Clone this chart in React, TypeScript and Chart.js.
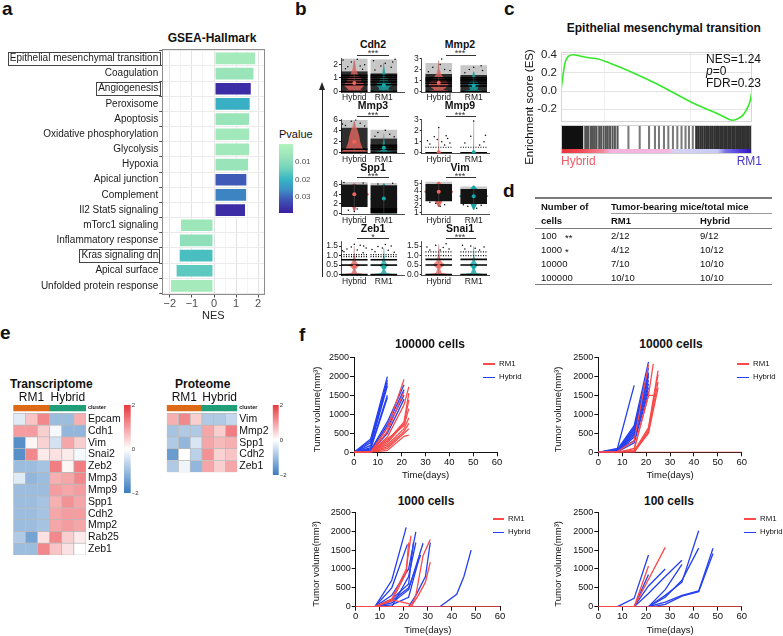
import React, { useEffect, useRef } from 'react';
import { Chart, registerables } from 'chart.js';

Chart.register(...registerables);

const FONT = "'Liberation Sans', Arial, Helvetica, sans-serif";
Chart.defaults.font.family = FONT;
Chart.defaults.color = '#222';

// ---------------- Panel a : GSEA Hallmark ----------------
const gseaTerms = [
  'Epithelial mesenchymal transition', 'Coagulation', 'Angiogenesis', 'Peroxisome', 'Apoptosis',
  'Oxidative phosphorylation', 'Glycolysis', 'Hypoxia', 'Apical junction', 'Complement',
  'Il2 Stat5 signaling', 'mTorc1 signaling', 'Inflammatory response', 'Kras signaling dn',
  'Apical surface', 'Unfolded protein response',
];
const gseaNES = [1.9, 1.83, 1.71, 1.66, 1.63, 1.63, 1.63, 1.59, 1.51, 1.5, 1.45, -1.54, -1.59, -1.6, -1.74, -1.99];
const gseaPvalue = [0.004, 0.007, 0.037, 0.021, 0.007, 0.005, 0.005, 0.007, 0.031, 0.027, 0.037, 0.006, 0.009, 0.018, 0.016, 0.004];
const boxedTerms = ['Epithelial mesenchymal transition', 'Angiogenesis', 'Kras signaling dn'];
const nesTicks = [-2, -1.5, -1, -0.5, 0, 0.5, 1, 1.5, 2];
const pvalueTicks = [0.01, 0.02, 0.03];
const pvalueLimits = [0, 0.039];

// ---------------- Panel b : violin plots ----------------
const violinGroups = ['Hybrid', 'RM1'];
const cdh2 = {
  name: 'Cdh2', sig: '***', y: [-0.05, 2.5], ticks: [0, 1, 2], opaque: false, dec: 0,
  hyb: { dense: [0, 1.5], sparseTop: 2.45, stripes: [0, 0.5, 0.7, 0.88, 1.05, 1.2], violin: [[0, 0.45], [0.12, 0.2], [0.3, 0.28], [0.5, 0.36], [0.7, 0.26], [0.9, 0.24], [1.1, 0.18], [1.3, 0.12], [1.6, 0.07], [2.0, 0.04], [2.3, 0.02]], mean: 0.62, dots: [[-0.3, 1.7], [0.2, 1.9], [-0.1, 2.2], [0.35, 2.0], [-0.38, 2.35], [0.1, 2.4], [0.28, 1.65], [-0.22, 1.85]] },
  rm1: { dense: [0, 1.35], sparseTop: 2.4, stripes: [0, 0.5, 0.7, 0.88, 1.05, 1.2], violin: [[0, 0.45], [0.12, 0.15], [0.3, 0.18], [0.5, 0.3], [0.7, 0.15], [0.9, 0.14], [1.1, 0.08], [1.4, 0.05], [1.8, 0.02], [2.1, 0.01]], mean: 0.46, dots: [[-0.3, 1.6], [0.25, 1.8], [0.05, 2.1], [-0.35, 2.3], [0.38, 2.4], [-0.1, 1.9], [0.3, 2.2]] },
};
const mmp2 = {
  name: 'Mmp2', sig: '***', y: [-0.05, 3.05], ticks: [0, 1, 2, 3], opaque: false, dec: 0,
  hyb: { dense: [0, 1.6], sparseTop: 2.6, stripes: [0, 0.5, 0.75, 0.95, 1.1, 1.25], violin: [[0, 0.45], [0.15, 0.15], [0.35, 0.25], [0.55, 0.34], [0.8, 0.3], [1.0, 0.26], [1.3, 0.16], [1.6, 0.08], [2.0, 0.04], [2.8, 0.01]], mean: 0.8, dots: [[-0.35, 1.8], [0.2, 2.0], [0.05, 2.45], [-0.2, 2.2], [0.38, 1.9], [0.1, 2.95]] },
  rm1: { dense: [0, 1.5], sparseTop: 2.4, stripes: [0, 0.5, 0.75, 0.95, 1.1, 1.25], violin: [[0, 0.42], [0.15, 0.12], [0.35, 0.15], [0.55, 0.2], [0.8, 0.15], [1.0, 0.12], [1.3, 0.06], [1.8, 0.02]], mean: 0.55, dots: [[-0.3, 1.7], [0.3, 1.9], [0.0, 2.2], [-0.15, 2.0], [0.25, 2.35]] },
};
const mmp3 = {
  name: 'Mmp3', sig: '***', y: [-0.15, 6.15], ticks: [0, 2, 4, 6], opaque: false, dec: 0,
  hyb: { dense: [0, 4.6], sparseTop: 6.0, stripes: [0, 0.6], violin: [[0, 0.45], [0.3, 0.4], [0.6, 0.3], [1.2, 0.25], [2, 0.2], [3, 0.17], [4, 0.12], [5, 0.05], [5.8, 0.01]], mean: 2.0, dots: [[-0.3, 5.0], [0.2, 5.4], [0.35, 4.9], [-0.1, 5.8], [0.05, 6.0], [-0.4, 5.3]] },
  rm1: { dense: [0, 2.6], sparseTop: 4.2, stripes: [0, 0.6, 1.0, 1.35], violin: [[0, 0.4], [0.3, 0.1], [0.7, 0.12], [1.1, 0.08], [1.6, 0.04], [2.4, 0.015], [3.5, 0.005]], mean: 0.9, dots: [[-0.3, 3.0], [0.2, 3.4], [0.05, 4.1], [-0.2, 3.7], [0.35, 2.9]] },
};
const mmp9 = {
  name: 'Mmp9', sig: '***', y: [-0.05, 3.05], ticks: [0, 1, 2, 3], opaque: false, dec: 0,
  hyb: { dense: [0, 0.04], sparseTop: 0, stripes: [0], dotted: [0.5], violin: [[0, 0.45], [0.06, 0.03], [0.5, 0.01], [2.3, 0.004]], mean: 0.05, dots: [[-0.3, 0.8], [0.1, 1.0], [0.3, 1.3], [-0.15, 1.45], [0.2, 0.7], [-0.38, 1.1], [0.0, 2.3], [0.38, 0.9], [-0.05, 1.2], [0.25, 1.55]] },
  rm1: { dense: [0, 0.04], sparseTop: 0, stripes: [0], dotted: [0.5], violin: [[0, 0.45], [0.06, 0.03], [0.5, 0.01], [2.9, 0.004]], mean: 0.04, dots: [[-0.3, 0.9], [0.2, 0.7], [0.35, 1.0], [-0.1, 1.5], [0.0, 2.9], [0.4, 1.6]] },
};
const spp1 = {
  name: 'Spp1', sig: '***', y: [-0.3, 6.9], ticks: [0, 2, 4, 6], opaque: true, dec: 0,
  hyb: { dense: [1.3, 6.1], sparseTop: 6.6, stripes: [], violin: [[0.4, 0.02], [1.5, 0.08], [2.5, 0.22], [3.3, 0.4], [4.0, 0.5], [4.7, 0.38], [5.5, 0.15], [6.3, 0.03]], mean: 4.0, dots: [[-0.2, 0.6], [0.1, 0.9], [0.0, 0.35], [-0.35, 6.5], [0.3, 6.4]] },
  rm1: { dense: [0.9, 5.9], sparseTop: 6.4, stripes: [0.1, 0.35, 0.6, 0.85], violin: [[0, 0.3], [0.3, 0.35], [0.6, 0.25], [1.2, 0.2], [2, 0.3], [3, 0.46], [3.7, 0.4], [4.6, 0.25], [5.5, 0.08], [6.3, 0.02]], mean: 3.1, dots: [[-0.2, 6.2], [0.3, 6.35]] },
};
const vim = {
  name: 'Vim', sig: '***', y: [0.73, 5.47], ticks: [1, 2, 3, 4, 5], opaque: true, dec: 0,
  hyb: { dense: [2.6, 5.0], sparseTop: 5.3, stripes: [], violin: [[1.8, 0.02], [2.8, 0.15], [3.4, 0.35], [3.9, 0.5], [4.4, 0.35], [4.9, 0.12], [5.3, 0.02]], mean: 3.9, dots: [[-0.1, 2.3], [0.2, 2.1], [0.05, 1.9], [-0.3, 2.45]] },
  rm1: { dense: [2.2, 4.3], sparseTop: 4.65, stripes: [], violin: [[1.4, 0.02], [2.3, 0.12], [2.9, 0.35], [3.3, 0.5], [3.8, 0.35], [4.3, 0.12], [4.8, 0.02]], mean: 3.3, dots: [[-0.2, 1.9], [0.1, 1.6], [0.25, 2.05], [-0.35, 2.1]] },
};
const zeb1 = {
  name: 'Zeb1', sig: '*', y: [-0.07, 1.72], ticks: [0, 0.5, 1, 1.5], opaque: false, dec: 1,
  hyb: { dense: [0, 0.03], sparseTop: 0, stripes: [0, 0.5, 0.78], dotted: [0.95, 1.05], violin: [[0, 0.45], [0.08, 0.1], [0.25, 0.04], [0.4, 0.12], [0.5, 0.2], [0.6, 0.1], [0.75, 0.05], [0.9, 0.04], [1.1, 0.02], [1.5, 0.005]], mean: 0.42, dots: [[-0.35, 1.2], [0.1, 1.3], [0.3, 1.15], [-0.1, 1.45], [0.2, 1.55], [-0.25, 1.35], [0.4, 1.4], [0.0, 1.6], [-0.4, 1.25], [0.32, 1.5]] },
  rm1: { dense: [0, 0.03], sparseTop: 0, stripes: [0, 0.5, 0.78], dotted: [0.95, 1.05], violin: [[0, 0.45], [0.08, 0.1], [0.25, 0.04], [0.4, 0.1], [0.5, 0.16], [0.6, 0.08], [0.8, 0.04], [1.0, 0.02], [1.4, 0.005]], mean: 0.4, dots: [[-0.3, 1.2], [0.15, 1.28], [0.35, 1.18], [-0.05, 1.4], [0.25, 1.5], [-0.4, 1.32], [0.05, 1.58], [-0.2, 1.48]] },
};
const snai1 = {
  name: 'Snai1', sig: '***', y: [-0.07, 1.72], ticks: [0, 0.5, 1, 1.5], opaque: false, dec: 1,
  hyb: { dense: [0, 0.03], sparseTop: 0, stripes: [0, 0.5, 0.8], dotted: [1.0, 1.2], violin: [[0, 0.45], [0.08, 0.1], [0.3, 0.05], [0.45, 0.16], [0.55, 0.18], [0.7, 0.08], [0.85, 0.05], [1.2, 0.02], [1.6, 0.005]], mean: 0.45, dots: [[-0.3, 1.3], [0.15, 1.42], [0.35, 1.35], [-0.1, 1.55], [0.25, 1.62], [-0.4, 1.45], [0.05, 1.3]] },
  rm1: { dense: [0, 0.03], sparseTop: 0, stripes: [0, 0.5, 0.8], dotted: [1.0, 1.2], violin: [[0, 0.45], [0.08, 0.1], [0.3, 0.04], [0.45, 0.12], [0.55, 0.12], [0.7, 0.05], [1.0, 0.02], [1.5, 0.005]], mean: 0.4, dots: [[-0.3, 1.35], [0.2, 1.3], [0.35, 1.45], [-0.1, 1.5], [0.05, 1.38], [-0.38, 1.55]] },
};
const violinGenes = [cdh2, mmp2, mmp3, mmp9, spp1, vim, zeb1, snai1];

// ---------------- Panel c : enrichment plot ----------------
const esRank = [0, 0.004, 0.009, 0.02, 0.04, 0.066, 0.1, 0.136, 0.19, 0.3, 0.4, 0.5, 0.6, 0.7, 0.8, 0.86, 0.895, 0.92, 0.95, 0.97, 0.99, 1.0];
const esScore = [0, 0.08, 0.15, 0.3, 0.385, 0.4, 0.385, 0.37, 0.355, 0.27, 0.18, 0.08, -0.03, -0.14, -0.23, -0.29, -0.32, -0.31, -0.27, -0.21, -0.11, 0];
const esTicks = [-0.2, 0, 0.2, 0.4];
const esHits = [0.002, 0.009, 0.016, 0.021, 0.028, 0.035, 0.04, 0.047, 0.054, 0.061, 0.066, 0.073, 0.082, 0.089, 0.096, 0.104, 0.111, 0.127, 0.136, 0.144, 0.157, 0.167, 0.177, 0.186, 0.2, 0.21, 0.223, 0.235, 0.245, 0.257, 0.27, 0.282, 0.296, 0.353, 0.412, 0.461, 0.492, 0.513, 0.539, 0.562, 0.586, 0.609, 0.631, 0.652, 0.67, 0.69, 0.708, 0.718, 0.729, 0.739, 0.75, 0.76, 0.77, 0.781, 0.791, 0.802, 0.812, 0.822, 0.833, 0.843, 0.854, 0.864, 0.875, 0.885, 0.896, 0.906, 0.917, 0.927, 0.937, 0.948, 0.958, 0.969, 0.979, 0.99, 0.998];

// ---------------- Panel d : table ----------------
const cellNumbers = ['100', '1000', '10000', '100000'];
const cellStars = ['**', '*', '', ''];
const tumorRM1 = ['2/12', '4/12', '7/10', '10/10'];
const tumorHybrid = ['9/12', '10/12', '10/10', '10/10'];

// ---------------- Panel e : heatmaps ----------------
const hmSamples = ['RM1-1', 'RM1-2', 'RM1-3', 'Hybrid-1', 'Hybrid-2', 'Hybrid-3'];
const hmCluster = ['RM1', 'RM1', 'RM1', 'Hybrid', 'Hybrid', 'Hybrid'];
const transGenes = ['Epcam', 'Cdh1', 'Vim', 'Snai2', 'Zeb2', 'Mmp3', 'Mmp9', 'Spp1', 'Cdh2', 'Mmp2', 'Rab25', 'Zeb1'];
const transZ = [
  [-0.3, 0.6, 1.2, -1.0, -1.0, 0.8],
  [1.0, 1.0, 0.5, -0.1, -1.1, -1.1],
  [-1.7, 0.1, 0.45, -0.45, 0.9, 0.5],
  [-1.7, 1.2, 0.2, 0.3, 0.2, -0.1],
  [-1.0, -1.0, -0.9, 1.3, 0.1, 1.3],
  [-0.3, -1.1, -1.0, 0.8, 0.9, 1.2],
  [-1.0, -1.0, -1.0, 1.0, 0.9, 1.0],
  [-1.0, -1.0, -0.9, 0.8, 1.1, 0.9],
  [-1.0, -1.0, -0.9, 0.9, 1.0, 1.0],
  [-1.0, -1.0, -0.9, 0.9, 1.0, 0.9],
  [-0.8, -1.4, 0.3, 1.2, 0.5, 0.2],
  [-1.0, -1.0, 1.2, 0.6, 0.3, 0.0],
];
const protGenes = ['Vim', 'Mmp2', 'Spp1', 'Cdh2', 'Zeb1'];
const protZ = [
  [0.8, 1.2, 0.5, -0.8, -0.8, -0.6],
  [-0.9, -0.8, -0.8, 0.9, 0.5, 1.3],
  [-0.8, -1.1, -0.4, 0.9, 0.7, 0.8],
  [-1.5, 0.0, -0.7, 1.1, 0.45, 0.6],
  [-0.8, -0.15, -1.1, 0.9, 0.5, 0.9],
];
const zTicks = [-2, 0, 2];
const zLimits = [-2, 2];

// ---------------- Panel f : tumour growth ----------------
const timeTicks = [0, 10, 20, 30, 40, 50, 60];
const volumeTicks = [0, 500, 1000, 1500, 2000, 2500];
const hybrid100000 = [
  [[0, 0], [7, 350], [14, 1990]], [[0, 0], [7, 300], [14, 1900]], [[0, 0], [7, 250], [14, 1820]],
  [[0, 0], [7, 180], [14, 1750]], [[0, 0], [7, 120], [14, 1500]], [[0, 0], [7, 90], [14, 1440]],
  [[0, 0], [7, 60], [14, 800], [21, 1780]], [[0, 0], [7, 40], [14, 650], [21, 1500]],
  [[0, 0], [7, 30], [14, 720], [21, 1650]], [[0, 0], [7, 20], [14, 500], [21, 1400]],
];
const rm1_100000 = [
  [[0, 0], [7, 10], [14, 650], [21, 1920]], [[0, 0], [7, 0], [14, 550], [21, 1600]],
  [[0, 0], [7, 0], [14, 400], [21, 1250], [23, 1720]], [[0, 0], [7, 0], [14, 300], [21, 800], [23, 1560]],
  [[0, 0], [7, 0], [14, 250], [21, 750], [23, 1380]], [[0, 0], [7, 0], [14, 350], [21, 700], [23, 1150]],
  [[0, 0], [7, 0], [14, 200], [21, 620], [23, 900]], [[0, 0], [7, 0], [14, 150], [21, 550], [23, 760]],
  [[0, 0], [7, 0], [14, 100], [21, 500], [23, 620]], [[0, 0], [7, 0], [14, 50], [21, 420], [23, 450]],
];
const hybrid10000 = [
  [[0, 0], [8, 100], [15, 1760]], [[0, 0], [8, 80], [15, 700], [21, 2380]], [[0, 0], [8, 60], [15, 600], [21, 2220]],
  [[0, 0], [8, 50], [15, 650], [21, 2050]], [[0, 0], [8, 40], [15, 500], [21, 2000]], [[0, 0], [8, 30], [15, 450], [21, 1900]],
  [[0, 0], [8, 70], [15, 300], [21, 1700]], [[0, 0], [8, 20], [15, 400], [21, 1800]], [[0, 0], [8, 10], [15, 250], [21, 1600]],
  [[0, 0], [8, 50], [15, 550], [21, 2100]],
];
const rm1_10000 = [
  [[0, 0], [8, 20], [15, 300], [21, 2300]], [[0, 0], [8, 0], [15, 100], [21, 1500], [23, 2330]],
  [[0, 0], [8, 0], [15, 60], [21, 1500], [23, 1500]], [[0, 0], [8, 0], [15, 30], [21, 650], [25, 2150]],
  [[0, 0], [8, 0], [15, 0], [21, 600], [25, 2050]], [[0, 0], [8, 0], [15, 0], [21, 550], [25, 1850]],
  [[0, 0], [8, 0], [15, 10], [21, 500], [25, 1700]], [[0, 0], [60, 0]],
];
const hybrid1000 = [
  [[0, 0], [8, 0], [15, 700], [21, 2100]], [[0, 0], [8, 0], [15, 500], [21.5, 1650]],
  [[0, 0], [8, 0], [15, 300], [22, 1000], [25, 1980]], [[0, 0], [8, 0], [15, 200], [22, 600], [24, 1700]],
  [[0, 0], [8, 0], [15, 150], [22, 500], [27, 1370]], [[0, 0], [8, 0], [15, 100], [22, 450], [28, 1680]],
  [[0, 0], [8, 0], [15, 50], [22, 250], [26, 1200]], [[0, 0], [22, 0], [25, 300], [29, 800], [31, 1700]],
  [[0, 0], [15, 0], [22, 800], [25, 1700]], [[0, 0], [35, 0], [42, 330], [45, 800], [48, 1500]],
];
const rm1_1000 = [
  [[0, 0], [8, 0], [15, 200], [21, 1000], [23, 1880]], [[0, 0], [8, 0], [15, 150], [21, 900], [22, 1700]],
  [[0, 0], [8, 0], [15, 180], [22, 80], [24, 0]], [[0, 0], [23, 0], [25, 300], [28, 1350], [31, 1780]],
  [[0, 0], [23, 0], [26, 300], [29, 650], [31, 1180]], [[0, 0], [60, 0]],
];
const hybrid100 = [
  [[0, 0], [8, 0], [15, 220], [21, 1370]], [[0, 0], [15, 0], [21, 850]], [[0, 0], [15, 0], [21, 550], [28, 1000]],
  [[0, 0], [15, 0], [21, 350], [28, 800], [35, 1230]], [[0, 0], [21, 0], [28, 450], [35, 1120]],
  [[0, 0], [21, 0], [28, 300], [35, 650], [42, 2010]], [[0, 0], [21, 0], [28, 250], [35, 700], [42, 1550]],
  [[0, 0], [21, 0], [28, 120], [35, 300], [42, 420], [48, 1550]], [[0, 0], [23, 0], [28, 60], [35, 280], [42, 400], [48, 1410]],
];
const rm1_100 = [[[0, 0], [15, 0], [21, 1080]], [[0, 0], [15, 0], [28, 1570]], [[0, 0], [60, 0]]];

// ---------------- styles ----------------
const pvalueStops: any[] = [[0, '#b3f3bd'], [0.2, '#97e2b9'], [0.36, '#6fd2bd'], [0.51, '#38b6c4'], [0.67, '#3c8ec4'], [0.8, '#4058b8'], [1, '#3a1ea0']];
const divStops: any[] = [[0, '#3a7bbf'], [0.5, '#ffffff'], [1, '#e8393e']];
const rankStops: any[] = [[0, '#e5323b'], [0.1, '#ee4a55'], [0.22, '#f48a9c'], [0.26, '#f5b3dd'], [0.56, '#f5b6df'], [0.6, '#d6d4f6'], [0.82, '#c9c9f4'], [0.86, '#7d74e6'], [0.95, '#4a32d6'], [1, '#2a12b4']];
const clusterColors: any = { RM1: '#dd6a17', Hybrid: '#1f9e78' };
const HYB_COL = '#f0645e';
const RM1_COL = '#16a9a9';
const RED = '#fa4a4a';
const BLUE = '#2540f0';

function hexRgb(h: string) {
  const n = parseInt(h.slice(1), 16);
  return [(n >> 16) & 255, (n >> 8) & 255, n & 255];
}
function ramp(stops: any[], t: number) {
  t = Math.max(0, Math.min(1, t));
  for (let i = 1; i < stops.length; i++) {
    if (t <= stops[i][0]) {
      const [t0, c0] = stops[i - 1];
      const [t1, c1] = stops[i];
      const f = (t - t0) / (t1 - t0 || 1);
      const a = hexRgb(c0);
      const b = hexRgb(c1);
      return `rgb(${a.map((v, k) => Math.round(v + (b[k] - v) * f)).join(',')})`;
    }
  }
  return stops[stops.length - 1][1];
}
function scaleGradient(c: any, stops: any[], limits: number[], axis: string) {
  const chart = c.chart;
  if (!chart.chartArea) return 'transparent';
  const sc = chart.scales[axis];
  const p0 = sc.getPixelForValue(limits[0]);
  const p1 = sc.getPixelForValue(limits[1]);
  const g = axis === 'y' ? chart.ctx.createLinearGradient(0, p0, 0, p1) : chart.ctx.createLinearGradient(p0, 0, p1, 0);
  stops.forEach(([t, col]: any) => g.addColorStop(t, col));
  return g;
}
const minus = (v: number) => (v < 0 ? '\u2212' + Math.abs(v) : String(v));
const hitShade = (h: number) => (h < 0.12 ? '#111' : h < 0.32 ? '#555' : h < 0.7 ? '#7a7a7a' : '#303030');

const frame = (color: string) => ({
  id: 'frame',
  afterDatasetsDraw(chart: any) {
    const { ctx, chartArea: a } = chart;
    ctx.save();
    ctx.strokeStyle = color;
    ctx.lineWidth = 1;
    ctx.strokeRect(Math.round(a.left) + 0.5, Math.round(a.top) + 0.5, Math.round(a.right - a.left) - 1, Math.round(a.bottom - a.top) - 1);
    ctx.restore();
  },
});
const boxLabels = {
  id: 'boxLabels',
  afterDraw(chart: any) {
    const sc = chart.scales.y;
    const ctx = chart.ctx;
    ctx.save();
    ctx.font = `10px ${FONT}`;
    ctx.strokeStyle = '#444';
    ctx.lineWidth = 1;
    gseaTerms.forEach((t, i) => {
      if (boxedTerms.indexOf(t) < 0) return;
      const yc = sc.getPixelForValue(i);
      const w = ctx.measureText(t).width;
      const right = sc.right - 3.5;
      ctx.strokeRect(Math.round(right - w - 2) + 0.5, Math.round(yc - 6.5) + 0.5, Math.round(w + 3.5), 13);
    });
    ctx.restore();
  },
};

function baseOptions(padding: any) {
  return {
    responsive: false, maintainAspectRatio: false, animation: false, devicePixelRatio: 1, events: [],
    layout: { padding },
    plugins: { legend: { display: false }, tooltip: { enabled: false }, title: { display: false } },
  };
}
function place(pl: number, pt: number, pr: number, pb: number, ax: any, pad: any) {
  const al = ax.l || 0, at = ax.t || 0, ar = ax.r || 0, ab = ax.b || 0;
  const L = Math.floor(pl - al - (pad.l || 0));
  const T = Math.floor(pt - at - (pad.t || 0));
  const R = Math.ceil(pr + ar + (pad.r || 0));
  const B = Math.ceil(pb + ab + (pad.b || 0));
  return { x: L, y: T, w: R - L, h: B - T, padding: { left: pl - al - L, top: pt - at - T, right: R - pr - ar, bottom: B - pb - ab } };
}

// ---------------- chart builders ----------------
function buildGsea(p: any) {
  const major = (c: any) => c.tick && Number.isInteger(c.tick.value);
  return {
    type: 'bar',
    data: {
      datasets: [{
        data: gseaNES.map((v, i) => ({ x: v, y: i })),
        backgroundColor: gseaPvalue.map((pv) => ramp(pvalueStops, (pv - pvalueLimits[0]) / (pvalueLimits[1] - pvalueLimits[0]))),
        borderColor: 'rgba(255,255,255,0.85)', borderWidth: 1, borderSkipped: false, barPercentage: 0.9, categoryPercentage: 1,
      }],
    },
    options: {
      ...baseOptions(p), indexAxis: 'y',
      scales: {
        x: {
          type: 'linear', min: -2.37, max: 2.31, offset: false,
          afterFit: (s: any) => { s.height = 28; },
          afterBuildTicks: (s: any) => { s.ticks = nesTicks.map((v) => ({ value: v })); },
          ticks: { autoSkip: false, maxRotation: 0, padding: 0, color: '#4d4d4d', font: { size: 11 }, callback: (v: number) => (Number.isInteger(v) ? minus(v) : '') },
          grid: { color: (c: any) => (major(c) ? '#e3e3e3' : '#f3f3f3'), tickColor: (c: any) => (major(c) ? '#4d4d4d' : 'rgba(0,0,0,0)'), tickLength: 2.5 },
          border: { display: false },
          title: { display: true, text: 'NES', color: '#222', font: { size: 11 }, padding: 0 },
        },
        y: {
          type: 'linear', min: -0.6, max: gseaTerms.length - 0.4, reverse: true, offset: false,
          afterFit: (s: any) => { s.width = 161.7; },
          afterBuildTicks: (s: any) => { s.ticks = gseaTerms.map((_, i) => ({ value: i })); },
          ticks: { autoSkip: false, padding: 1, color: '#1a1a1a', font: { size: 10 }, callback: (v: number) => gseaTerms[Math.round(v)] ?? '' },
          grid: { color: '#ebebeb', tickColor: '#4d4d4d', tickLength: 2.5 },
          border: { display: false },
        },
      },
    },
    plugins: [frame('#8c8c8c'), boxLabels],
  };
}

function buildColorbar(p: any, stops: any[], limits: number[], ticks: number[], reverse: boolean, axW: number, size: number, fmt: any, color: string) {
  return {
    type: 'bar',
    data: { labels: [''], datasets: [{ data: [[limits[0], limits[1]]], backgroundColor: (c: any) => scaleGradient(c, stops, limits, 'y'), borderWidth: 0, barPercentage: 1, categoryPercentage: 1 }] },
    options: {
      ...baseOptions(p),
      scales: {
        x: { display: false },
        y: {
          position: 'right', min: limits[0], max: limits[1], reverse,
          afterFit: (s: any) => { s.width = axW; },
          afterBuildTicks: (s: any) => { s.ticks = ticks.map((v) => ({ value: v })); },
          ticks: { autoSkip: false, padding: size > 7 ? 2 : 1, font: { size }, color, callback: fmt },
          grid: { display: false, drawTicks: false }, border: { display: false },
        },
      },
    },
  };
}

function buildViolin(g: any, col: number, p: any) {
  const xr = col === 0 ? [0.55, 2.683] : [0.513, 2.437];
  const hw = col === 0 ? 0.45 : 0.38;
  const k = hw / 0.45;
  const layers: any[] = [];
  const poly = (pts: number[][], color: string) => ({ data: pts.map(([x, y]) => ({ x, y })), fill: 'shape', backgroundColor: color, borderWidth: 0, pointRadius: 0 });
  const seg = (pts: number[][], color: string, width: number, dash?: number[]) => ({ data: pts.map(([x, y]) => ({ x, y })), fill: false, borderColor: color, borderWidth: width, borderDash: dash || [], pointRadius: 0 });
  const rect = (c: number, lo: number, hi: number) => [[c - hw, lo], [c + hw, lo], [c + hw, hi], [c - hw, hi]];
  [g.hyb, g.rm1].forEach((grp: any, gi: number) => {
    const c = gi + 1;
    const color = gi === 0 ? HYB_COL : RM1_COL;
    if (grp.sparseTop > grp.dense[1]) layers.push(poly(rect(c, grp.dense[1], grp.sparseTop), 'rgba(0,0,0,0.22)'));
    const right = grp.violin.map(([y, w]: number[]) => [c + w * k, y]);
    const left = grp.violin.slice().reverse().map(([y, w]: number[]) => [c - w * k, y]);
    const vio = poly([...right, ...left], g.opaque ? color : color + 'c8');
    const cloud = poly(rect(c, grp.dense[0], grp.dense[1]), g.opaque ? '#141414' : 'rgba(12,12,12,0.86)');
    if (g.opaque) layers.push(vio, cloud); else layers.push(cloud, vio);
    grp.stripes.forEach((y: number) => layers.push(seg([[c - hw, y], [c + hw, y]], '#000', 1.6)));
    (grp.dotted || []).forEach((y: number) => layers.push(seg([[c - hw, y], [c + hw, y]], '#000', 1.2, [1, 1.5])));
    layers.push(seg([[c, grp.violin[0][0]], [c, grp.violin[grp.violin.length - 1][0]]], 'rgba(110,110,110,0.7)', 0.6));
    layers.push({ data: grp.dots.map(([dx, y]: number[]) => ({ x: c + dx * k, y })), showLine: false, pointRadius: 0.75, pointBackgroundColor: '#000', pointBorderWidth: 0 });
    layers.push({ data: [{ x: c, y: grp.mean }], showLine: false, pointRadius: 2, pointBackgroundColor: color, pointBorderWidth: 0 });
  });
  return {
    type: 'line',
    data: { datasets: layers.reverse() },
    options: {
      ...baseOptions(p),
      scales: {
        x: {
          type: 'linear', min: xr[0], max: xr[1],
          afterFit: (s: any) => { s.height = 12; },
          afterBuildTicks: (s: any) => { s.ticks = [{ value: 1 }, { value: 2 }]; },
          ticks: { autoSkip: false, padding: 1, font: { size: 8.5 }, color: '#222', maxRotation: 0, callback: (v: number) => violinGroups[Math.round(v) - 1] },
          grid: { display: false, drawTicks: false }, border: { color: '#222', width: 0.8 },
        },
        y: {
          type: 'linear', min: g.y[0], max: g.y[1],
          afterFit: (s: any) => { s.width = 22; },
          afterBuildTicks: (s: any) => { s.ticks = g.ticks.map((v: number) => ({ value: v })); },
          ticks: { autoSkip: false, padding: 1, font: { size: 8.5 }, color: '#222', callback: (v: number) => v.toFixed(g.dec) },
          grid: { drawOnChartArea: false, tickLength: 2, color: '#222' }, border: { color: '#222', width: 0.8 },
        },
      },
    },
  };
}

function buildES(p: any) {
  return {
    type: 'line',
    data: { datasets: [{ data: esRank.map((x, i) => ({ x, y: esScore[i] })), borderColor: '#35e82a', borderWidth: 1.6, pointRadius: 0, fill: false, cubicInterpolationMode: 'monotone' }] },
    options: {
      ...baseOptions(p),
      scales: {
        x: {
          type: 'linear', min: 0, max: 1,
          afterFit: (s: any) => { s.height = 0; },
          afterBuildTicks: (s: any) => { s.ticks = [{ value: 0.23 }, { value: 0.68 }]; },
          ticks: { display: false }, grid: { color: '#efefef', drawTicks: false }, border: { display: false },
        },
        y: {
          type: 'linear', min: -0.34, max: 0.43,
          afterFit: (s: any) => { s.width = 31; },
          afterBuildTicks: (s: any) => { s.ticks = esTicks.map((v) => ({ value: v })); },
          ticks: { autoSkip: false, padding: 4, font: { size: 11.5 }, color: '#222', callback: (v: number) => v.toFixed(1) },
          grid: { color: '#e4e4e4', drawTicks: false }, border: { display: false },
        },
      },
    },
    plugins: [frame('#d6d6d6')],
  };
}

function buildBarcode(p: any) {
  return {
    type: 'bar',
    data: {
      datasets: [
        { type: 'line', data: [{ x: 0, y: 0.17 }, { x: 1, y: 0.17 }], fill: 'origin', backgroundColor: (c: any) => scaleGradient(c, rankStops, [0, 1], 'x'), borderWidth: 0, pointRadius: 0 },
        { data: esHits.map((h) => ({ x: h, y: [0.17, 1] })), backgroundColor: esHits.map(hitShade), barThickness: 1.4, borderWidth: 0 },
      ],
    },
    options: {
      ...baseOptions(p),
      scales: { x: { type: 'linear', min: 0, max: 1, display: false, offset: false }, y: { type: 'linear', min: 0, max: 1, display: false } },
    },
    plugins: [frame('#d0d0d0')],
  };
}

function buildHeatmap(genes: string[], z: number[][], axR: number, p: any) {
  const n = genes.length;
  const datasets: any[] = z.map((row, i) => ({
    data: row.map(() => [n - i - 1, n - i]),
    backgroundColor: row.map((v) => ramp(divStops, (v - zLimits[0]) / (zLimits[1] - zLimits[0]))),
    borderColor: '#b9b9b9', borderWidth: 0.7, borderSkipped: false, barPercentage: 1, categoryPercentage: 1, grouped: false,
  }));
  datasets.push({ data: hmCluster.map(() => [n + 0.2, n + 0.7]), backgroundColor: hmCluster.map((c) => clusterColors[c]), borderWidth: 0, barPercentage: 1, categoryPercentage: 1, grouped: false });
  return {
    type: 'bar',
    data: { labels: hmSamples, datasets },
    options: {
      ...baseOptions(p),
      scales: {
        x: {
          position: 'top',
          afterFit: (s: any) => { s.height = 14; },
          grid: { display: false, drawTicks: false }, border: { display: false },
          ticks: { autoSkip: false, maxRotation: 0, padding: 0, font: { size: 12 }, color: '#111', callback: (_v: any, i: number) => (i === 1 || i === 4 ? hmCluster[i] : '') },
        },
        y: {
          position: 'right', min: 0, max: n + 0.7,
          afterFit: (s: any) => { s.width = axR; },
          afterBuildTicks: (s: any) => { s.ticks = [...genes.map((_, i) => ({ value: n - i - 0.5 })), { value: n + 0.45 }]; },
          grid: { display: false, drawTicks: false }, border: { display: false },
          ticks: {
            autoSkip: false, padding: 2, color: '#111',
            font: (c: any) => (c.tick && c.tick.value > n ? { size: 5.5, weight: 'bold' } : { size: 10.5 }),
            callback: (v: number) => (v > n ? 'cluster' : genes[Math.round(n - 0.5 - v)]),
          },
        },
      },
    },
  };
}

function buildGrowth(rm1: number[][][], hyb: number[][][], ax: any, p: any) {
  const mk = (s: number[][], color: string) => ({ data: s.map(([x, y]) => ({ x, y })), borderColor: color, borderWidth: 1.3, pointRadius: 0, fill: false, tension: 0 });
  return {
    type: 'line',
    data: { datasets: [...rm1.map((s) => mk(s, RED)), ...hyb.map((s) => mk(s, BLUE))] },
    options: {
      ...baseOptions(p),
      scales: {
        x: {
          type: 'linear', min: 0, max: 60,
          afterFit: (s: any) => { s.height = ax.b; },
          afterBuildTicks: (s: any) => { s.ticks = timeTicks.map((v) => ({ value: v })); },
          ticks: { autoSkip: false, padding: 0, font: { size: 9.5 }, color: '#111', maxRotation: 0, callback: (v: number) => String(v) },
          grid: { drawOnChartArea: false, tickLength: 4, color: '#111' }, border: { color: '#111', width: 1 },
          title: { display: true, text: 'Time(days)', font: { size: 9.5 }, color: '#111', padding: 0 },
        },
        y: {
          type: 'linear', min: 0, max: 2500,
          afterFit: (s: any) => { s.width = ax.l; },
          afterBuildTicks: (s: any) => { s.ticks = volumeTicks.map((v) => ({ value: v })); },
          ticks: { autoSkip: false, padding: 1, font: { size: 9 }, color: '#111', callback: (v: number) => String(v) },
          grid: { drawOnChartArea: false, tickLength: 4, color: '#111' }, border: { color: '#111', width: 1 },
          title: { display: true, text: 'Tumor volume(mm\u00b3)', font: { size: 9.5 }, color: '#111', padding: 0, align: 'start' },
        },
      },
    },
  };
}

// ---------------- components ----------------
function ChartBox({ box, build }: any) {
  const ref = useRef<HTMLCanvasElement>(null);
  useEffect(() => {
    const chart = new Chart(ref.current as HTMLCanvasElement, build(box.padding) as any);
    return () => chart.destroy();
  }, []);
  return <canvas ref={ref} width={box.w} height={box.h} style={{ position: 'absolute', left: box.x, top: box.y, width: box.w, height: box.h }} />;
}

function T({ x, y, s = 10, b = false, c = '#111', a = 'start', children }: any) {
  const tx = a === 'middle' ? 'translateX(-50%)' : a === 'end' ? 'translateX(-100%)' : undefined;
  return (
    <div style={{ position: 'absolute', left: x, top: y - 0.8465 * s, fontSize: s, lineHeight: `${s}px`, fontWeight: b ? 700 : 400, color: c, whiteSpace: 'nowrap', transform: tx }}>
      {children}
    </div>
  );
}
function VT({ cx, cy, s, children }: any) {
  return (
    <div style={{ position: 'absolute', left: cx, top: cy, transform: 'translate(-50%, -50%) rotate(-90deg)', fontSize: s, lineHeight: `${s}px`, whiteSpace: 'nowrap', color: '#111' }}>
      {children}
    </div>
  );
}
function Rule({ x, y, w, h, c }: any) {
  return <div style={{ position: 'absolute', left: x, top: y, width: w, height: h, background: c }} />;
}
function Legend({ x, y, tx }: any) {
  return (
    <>
      <Rule x={x} y={y - 0.75} w={11.5} h={1.5} c={RED} />
      <T x={tx} y={y + 2.8} s={7.8}>RM1</T>
      <Rule x={x} y={y + 12.55} w={11.5} h={1.5} c={BLUE} />
      <T x={tx} y={y + 16.1} s={7.8}>Hybrid</T>
    </>
  );
}

export default function App() {
  const gseaBox = place(161.7, 49.3, 265, 295, { l: 161.7, b: 28 }, { t: 8.3, r: 5 });
  const pvalBox = place(279, 144, 293, 213, { r: 22 }, { t: 8, b: 8 });
  const esBox = place(561, 52, 752, 122, { l: 31 }, { t: 11, r: 4, b: 11 });
  const barcodeBox = place(561, 125, 752, 154, {}, { t: 1, b: 1 });
  const transBox = place(13.3, 405, 86, 555, { t: 14, r: 44 }, { t: 2, l: 2, r: 2, b: 9 });
  const protBox = place(166.7, 405, 237.3, 472.3, { t: 14, r: 40 }, { t: 2, l: 2, r: 2, b: 9 });
  const transCb = place(124, 405, 130.7, 493, { r: 14 }, { t: 5, b: 5 });
  const protCb = place(272.7, 405, 278.7, 475, { r: 12 }, { t: 5, b: 5 });
  const g1 = { l: 42.7, b: 28.4 };
  const g2 = { l: 46, b: 28.4 };
  const g3 = { l: 44.7, b: 29 };
  const g4 = { l: 45.7, b: 29 };
  const f1 = place(354, 357.3, 497, 452.3, g1, { t: 7, r: 8 });
  const f2 = place(598.3, 357.3, 741.7, 452.3, g2, { t: 7, r: 8 });
  const f3 = place(355.7, 512.3, 500, 606.7, g3, { t: 7, r: 8 });
  const f4 = place(598.3, 512.3, 741.7, 606.7, g4, { t: 7, r: 8 });

  const cols = [{ l: 341, r: 405, mid: 373, sig: [357, 389] }, { l: 421.7, r: 490, mid: 460, sig: [446, 476] }];
  const zfmt = (v: number) => minus(v);
  const pfmt = (v: number) => v.toFixed(2);

  return (
    <div style={{ position: 'fixed', left: 0, top: 0, width: 783, height: 636, overflow: 'hidden', background: '#fff', fontFamily: FONT, color: '#111' }}>
      {/* panel letters */}
      <T x={2} y={15} s={19} b>a</T>
      <T x={295} y={15} s={19} b>b</T>
      <T x={504} y={15} s={19} b>c</T>
      <T x={503} y={197} s={19} b>d</T>
      <T x={0} y={339} s={19} b>e</T>
      <T x={299} y={341} s={19} b>f</T>

      {/* panel a */}
      <T x={212} y={42.5} s={12} b a="middle">GSEA-Hallmark</T>
      <ChartBox box={gseaBox} build={buildGsea} />
      <T x={279} y={138.5} s={11}>Pvalue</T>
      <ChartBox box={pvalBox} build={(p: any) => buildColorbar(p, pvalueStops, pvalueLimits, pvalueTicks, true, 22, 8, pfmt, '#4d4d4d')} />

      {/* panel b */}
      <Rule x={322} y={88} w={1.4} h={189} c="#222" />
      <div style={{ position: 'absolute', left: 319.2, top: 82, width: 0, height: 0, borderLeft: '3.5px solid transparent', borderRight: '3.5px solid transparent', borderBottom: '8px solid #222' }} />
      {violinGenes.map((g, i) => {
        const row = Math.floor(i / 2);
        const col = i % 2;
        const ty = 44 + 61.3 * row;
        const c = cols[col];
        const box = place(c.l, ty + 14, c.r, ty + 48, { l: 22, b: 12 }, { t: 7, r: 3 });
        return (
          <React.Fragment key={g.name}>
            <T x={c.mid} y={ty + 3.8} s={10.5} b a="middle">{g.name}</T>
            <T x={c.mid} y={ty + 13} s={9} a="middle" c="#333">{g.sig}</T>
            <Rule x={c.sig[0]} y={ty + 10.5} w={c.sig[1] - c.sig[0]} h={0.9} c="#333" />
            <ChartBox box={box} build={(p: any) => buildViolin(g, col, p)} />
          </React.Fragment>
        );
      })}

      {/* panel c */}
      <T x={663.8} y={32.5} s={12} b a="middle">Epithelial mesenchymal transition</T>
      <VT cx={530} cy={107} s={11.5}>Enrichment score (ES)</VT>
      <ChartBox box={esBox} build={buildES} />
      <ChartBox box={barcodeBox} build={buildBarcode} />
      <T x={706} y={63.5} s={12}>NES=1.24</T>
      <T x={706} y={75.5} s={12}><i>p</i>=0</T>
      <T x={706} y={87.5} s={12}>FDR=0.23</T>
      <T x={561} y={165} s={12} c="#f25d68">Hybrid</T>
      <T x={762} y={165} s={12} c="#4a38c6" a="end">RM1</T>

      {/* panel d */}
      <Rule x={535} y={197.3} w={237} h={1.5} c="#7a7a7a" />
      <T x={541} y={210.4} s={9.5} b>Number of</T>
      <T x={611} y={210.4} s={9.5} b>Tumor-bearing mice/total mice</T>
      <Rule x={611} y={212.8} w={161} h={1} c="#9a9a9a" />
      <T x={541} y={224.4} s={9.5} b>cells</T>
      <T x={611} y={224.4} s={9.5} b>RM1</T>
      <T x={700} y={224.4} s={9.5} b>Hybrid</T>
      <Rule x={535} y={227.5} w={237} h={1.3} c="#7a7a7a" />
      {cellNumbers.map((n, i) => (
        <React.Fragment key={n}>
          <T x={541} y={239.4 + 14 * i} s={9.5}>{n}</T>
          <T x={565} y={241.4 + 14 * i} s={9.5}>{cellStars[i]}</T>
          <T x={611} y={239.4 + 14 * i} s={9.5}>{tumorRM1[i]}</T>
          <T x={700} y={239.4 + 14 * i} s={9.5}>{tumorHybrid[i]}</T>
        </React.Fragment>
      ))}
      <Rule x={535} y={283.5} w={237} h={1.5} c="#7a7a7a" />

      {/* panel e */}
      <T x={10} y={388} s={12} b>Transcriptome</T>
      <T x={175} y={388} s={12} b>Proteome</T>
      <ChartBox box={transBox} build={(p: any) => buildHeatmap(transGenes, transZ, 44, p)} />
      <ChartBox box={protBox} build={(p: any) => buildHeatmap(protGenes, protZ, 40, p)} />
      <ChartBox box={transCb} build={(p: any) => buildColorbar(p, divStops, zLimits, zTicks, false, 14, 6, zfmt, '#333')} />
      <ChartBox box={protCb} build={(p: any) => buildColorbar(p, divStops, zLimits, zTicks, false, 12, 6, zfmt, '#333')} />

      {/* panel f */}
      <T x={430} y={348.3} s={12} b a="middle">100000 cells</T>
      <T x={671} y={348.3} s={12} b a="middle">10000 cells</T>
      <T x={426} y={505} s={12} b a="middle">1000 cells</T>
      <T x={669} y={505} s={12} b a="middle">100 cells</T>
      <ChartBox box={f1} build={(p: any) => buildGrowth(rm1_100000, hybrid100000, g1, p)} />
      <ChartBox box={f2} build={(p: any) => buildGrowth(rm1_10000, hybrid10000, g2, p)} />
      <ChartBox box={f3} build={(p: any) => buildGrowth(rm1_1000, hybrid1000, g3, p)} />
      <ChartBox box={f4} build={(p: any) => buildGrowth(rm1_100, hybrid100, g4, p)} />
      <Legend x={483} y={364} tx={499} />
      <Legend x={737} y={364} tx={753} />
      <Legend x={492.7} y={519} tx={508} />
      <Legend x={744} y={519} tx={760} />
    </div>
  );
}
